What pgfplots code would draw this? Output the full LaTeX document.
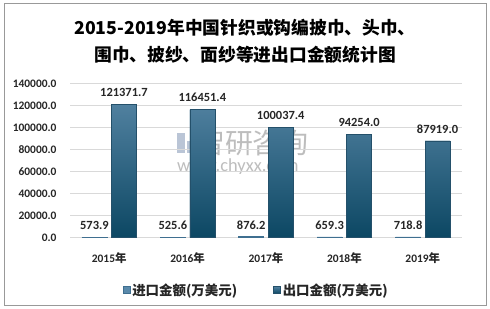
\documentclass[border=0pt]{standalone}
\usepackage{fontspec}
\setmainfont{Carlito}
\newfontfamily\cjk{Noto Sans CJK SC}
\usepackage{pgfplots}
\pgfplotsset{compat=1.18}
\definecolor{impC}{HTML}{5A8AAB}
\definecolor{impD}{HTML}{3F6F90}
\definecolor{expTop}{HTML}{50809F}
\definecolor{expBot}{HTML}{0C4763}
\definecolor{expEdge}{HTML}{24506A}
\definecolor{gridC}{HTML}{D9D9D9}
\definecolor{txt}{HTML}{262626}
\definecolor{wm}{HTML}{A8A8A8}
\definecolor{wmb}{HTML}{A9B7CC}
\newcommand{\nian}{{\cjk\bfseries 年}}
\begin{document}
\begin{tikzpicture}
\fill[white] (0bp,0bp) rectangle (490bp,309bp);
\draw[gray!80, line width=0.8bp] (4bp,4bp) rectangle (486bp,306bp);
\node[align=center, font=\cjk\bfseries\fontsize{17.8}{27}\selectfont, text=black] at (245bp,268bp)
 {2015-2019年中国针织或钩编披巾、头巾、\\围巾、披纱、面纱等进出口金额统计图};
% watermark
\node[font=\cjk\fontsize{28}{28}\selectfont, text=wm, opacity=0.75, anchor=west, inner sep=0pt] at (197bp,166bp) {智研咨询};
\node[font=\fontsize{18.5}{18.5}\selectfont, text=wm, opacity=0.75, anchor=west, inner sep=0pt] at (177bp,142bp) {www.chyxx.com};
\fill[wmb, opacity=0.8] (177bp,156bp) rectangle (185bp,176bp);
\fill[wmb, opacity=0.8] (187bp,156bp) rectangle (194bp,168bp);
\begin{axis}[
  at={(70bp,71.3bp)}, anchor=south west,
  scale only axis, width=392bp, height=154bp,
  ybar=4.5bp, bar width=25bp,
  xmin=-0.5, xmax=4.5, ymin=0, ymax=140000,
  xtick=data,
  xticklabels={2015\nian,2016\nian,2017\nian,2018\nian,2019\nian},
  ytick={0,20000,40000,60000,80000,100000,120000,140000},
  yticklabels={0.0,20000.0,40000.0,60000.0,80000.0,100000.0,120000.0,140000.0},
  scaled y ticks=false,
  ymajorgrids, grid style={gridC, line width=0.8bp},
  axis y line*=left, y axis line style={draw=none},
  axis x line*=bottom, x axis line style={draw=gridC, line width=0.8bp},
  major tick length=0pt,
  tick label style={font=\bfseries\fontsize{11.5}{12}\selectfont, text=txt},
  every y tick label/.append style={anchor=east, xshift=-10bp},
  every x tick label/.append style={yshift=-11bp},
  nodes near coords,
  nodes near coords style={font=\bfseries\fontsize{12.5}{13}\selectfont, text=txt,
    /pgf/number format/fixed, /pgf/number format/fixed zerofill,
    /pgf/number format/precision=1, /pgf/number format/1000 sep={},
    /pgf/number format/assume math mode=true},
  every node near coord/.append style={yshift=4bp},
  legend style={at={(0.475,-0.34)}, anchor=center, draw=none, fill=none,
    legend columns=2, font=\cjk\bfseries\fontsize{13.5}{14}\selectfont, text=txt,
    /tikz/every even column/.append style={column sep=34bp}},
  legend image code/.code={\fill[#1] (0bp,-3.5bp) rectangle (7bp,3.5bp);},
  clip=false,
]
\addplot[draw=impD, fill=impC, line width=0.6bp] coordinates {(0,573.9) (1,525.6) (2,876.2) (3,659.3) (4,718.8)};
\addlegendentry{进口金额(万美元)}
\addplot[draw=expEdge, top color=expTop, bottom color=expBot, fill=expBot, line width=0.6bp] coordinates {(0,121371.7) (1,116451.4) (2,100037.4) (3,94254.0) (4,87919.0)};
\addlegendentry{出口金额(万美元)}
\end{axis}
\pgfresetboundingbox
\path[use as bounding box] (0bp,0bp) rectangle (490bp,309bp);
\end{tikzpicture}
\end{document}
